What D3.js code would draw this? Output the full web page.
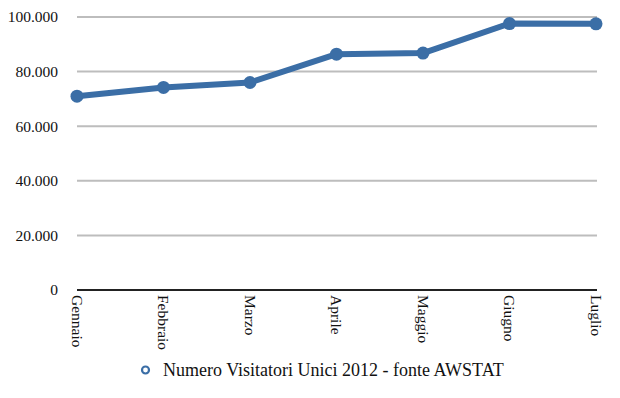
<!DOCTYPE html>
<html><head><meta charset="utf-8">
<script src="https://cdn.jsdelivr.net/npm/d3@7"></script>
<style>body{margin:0;background:#fff}svg{display:block}text{font-family:"Liberation Serif","Times New Roman",serif;fill:#111}</style>
</head><body><svg id="c" width="620" height="398"></svg>
<script>
const categories = ["Gennaio","Febbraio","Marzo","Aprile","Maggio","Giugno","Luglio"];
const values = [71000, 74200, 76000, 86400, 86800, 97600, 97500];
const yTicks = [0, 20000, 40000, 60000, 80000, 100000];
const seriesName = "Numero Visitatori Unici 2012 - fonte AWSTAT";
const color = "#3b6ea6";

(function () {
const svg = d3.select("#c");
const mLeft = 77, mRight = 597, mTop = 17, mBottom = 290;
const x = d3.scalePoint().domain(categories).range([mLeft, mRight - 1]);
const y = d3.scaleLinear().domain([0, 100000]).range([mBottom, mTop]);
const fmt = v => v === 0 ? "0" : d3.format(",")(v).replace(/,/g, ".");

svg.append("g").selectAll("line").data(yTicks.filter(d => d > 0)).join("line")
  .attr("x1", mLeft).attr("x2", mRight).attr("y1", d => y(d)).attr("y2", d => y(d))
  .attr("stroke", "#bdbdbd").attr("stroke-width", 2);

svg.append("g").selectAll("text").data(yTicks).join("text")
  .attr("x", 58).attr("y", d => y(d)).attr("dy", "0.35em")
  .attr("text-anchor", "end").attr("font-size", 15.5).text(fmt);

svg.append("line").attr("x1", mLeft).attr("x2", mRight).attr("y1", mBottom).attr("y2", mBottom)
  .attr("stroke", "#222").attr("stroke-width", 2);

svg.append("g").selectAll("text").data(categories).join("text")
  .attr("transform", d => `translate(${x(d)},${mBottom + 5}) rotate(90)`)
  .attr("dy", "0.33em").attr("text-anchor", "start").attr("font-size", 15.5).text(d => d);

const line = d3.line().x((d, i) => x(categories[i])).y(d => y(d));
svg.append("path").datum(values).attr("d", line).attr("fill", "none")
  .attr("stroke", color).attr("stroke-width", 6).attr("stroke-linejoin", "round");
svg.append("g").selectAll("circle").data(values).join("circle")
  .attr("cx", (d, i) => x(categories[i])).attr("cy", d => y(d)).attr("r", 6.5).attr("fill", color);

svg.append("circle").attr("cx", 145.5).attr("cy", 370).attr("r", 3.5)
  .attr("fill", "#fff").attr("stroke", color).attr("stroke-width", 2.2);
svg.append("text").attr("x", 163).attr("y", 370).attr("dy", "0.35em")
  .attr("font-size", 18).text(seriesName);
})();
</script></body></html>
